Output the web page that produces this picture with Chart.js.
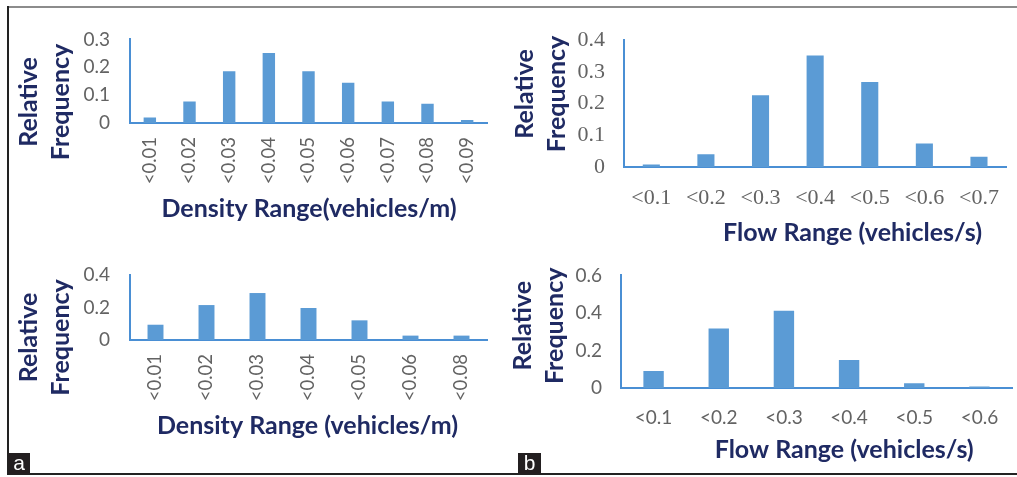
<!DOCTYPE html>
<html>
<head>
<meta charset="utf-8">
<title>Relative frequency of density and flow ranges</title>
<script src="https://cdn.jsdelivr.net/npm/chart.js@4.4.1/dist/chart.umd.min.js"></script>
<style>
  html, body { margin: 0; padding: 0; background: #ffffff; }
  body { width: 1017px; height: 477px; position: relative; overflow: hidden; }
  canvas { position: absolute; }
  #densityTop    { left: 9px;   top: 8px;   }
  #densityBottom { left: 9px;   top: 240px; }
  #flowTop       { left: 509px; top: 8px;   }
  #flowBottom    { left: 509px; top: 245px; }
  .rule { position: absolute; }
  .rule.top    { left: 8px; top: 6px;   width: 1009px; height: 2px; background: #8c8c8c; }
  .rule.left   { left: 7px; top: 6px;   width: 2px; height: 469px; background: #222222; }
  .rule.bottom { left: 7px; top: 473px; width: 1010px; height: 2px; background: #222222; }
  .tag {
    position: absolute; top: 453px; height: 21px; z-index: 2;
    background: #231f20; color: #ffffff; text-align: center;
    font: 21px "Liberation Sans", Arial, sans-serif; line-height: 20px;
  }
  .tag.a { left: 8px;   width: 22px; }
  .tag.b { left: 518px; width: 23px; }
</style>
</head>
<body>
<div class="rule top"></div>
<div class="rule left"></div>
<div class="rule bottom"></div>

<canvas id="densityTop" width="496" height="226"></canvas>
<canvas id="densityBottom" width="496" height="212"></canvas>
<canvas id="flowTop" width="508" height="246"></canvas>
<canvas id="flowBottom" width="508" height="232"></canvas>

<div class="tag a">a</div>
<div class="tag b">b</div>

<script>
// ---- data ----
const densityRangesTop = ['<0.01', '<0.02', '<0.03', '<0.04', '<0.05', '<0.06', '<0.07', '<0.08', '<0.09'];
const densityFreqTop   = [0.020, 0.077, 0.186, 0.251, 0.186, 0.144, 0.077, 0.069, 0.011];
const densityTicksTop  = [0, 0.1, 0.2, 0.3];

const densityRangesBottom = ['<0.01', '<0.02', '<0.03', '<0.04', '<0.05', '<0.06', '<0.08'];
const densityFreqBottom   = [0.094, 0.215, 0.289, 0.197, 0.121, 0.027, 0.027];
const densityTicksBottom  = [0, 0.2, 0.4];

const flowRangesTop = ['<0.1', '<0.2', '<0.3', '<0.4', '<0.5', '<0.6', '<0.7'];
const flowFreqTop   = [0.008, 0.040, 0.226, 0.352, 0.268, 0.074, 0.032];
const flowTicksTop  = [0, 0.1, 0.2, 0.3, 0.4];

const flowRangesBottom = ['<0.1', '<0.2', '<0.3', '<0.4', '<0.5', '<0.6'];
const flowFreqBottom   = [0.091, 0.317, 0.411, 0.149, 0.025, 0.008];
const flowTicksBottom  = [0, 0.2, 0.4, 0.6];

const yTitleLines = ['Relative', 'Frequency'];

// ---- styling ----
const BAR_BLUE  = '#5b9bd5';
const AXIS_BLUE = '#4a8fd4';
const TICK_GREY = '#636363';
const NAVY      = '#1f2a63';
const SANS      = 'Lato, "Open Sans", sans-serif';
const SERIF     = '"Liberation Serif", "Times New Roman", serif';

// Draws the bold axis captions (two-line rotated y caption, one-line x caption).
const captionPlugin = {
  id: 'captions',
  afterDraw(chart, args, opts) {
    const ctx = chart.ctx;
    ctx.save();
    ctx.fillStyle = opts.color;
    ctx.font = opts.font;
    ctx.textAlign = 'center';
    ctx.textBaseline = 'alphabetic';
    ctx.fillText(opts.xText, opts.xAt[0], opts.xAt[1]);
    opts.yLines.forEach((line, i) => {
      ctx.save();
      ctx.translate(opts.yAt[0] + i * opts.yGap, opts.yAt[1]);
      ctx.rotate(-Math.PI / 2);
      ctx.fillText(line, 0, 0);
      ctx.restore();
    });
    ctx.restore();
  }
};

function histogram(id, ranges, freqs, yTicks, cfg) {
  const canvas = document.getElementById(id);
  const W = canvas.width, H = canvas.height;
  const area = cfg.area;
  return new Chart(canvas, {
    type: 'bar',
    data: {
      labels: ranges,
      datasets: [{
        data: freqs,
        backgroundColor: BAR_BLUE,
        borderWidth: 0,
        barPercentage: 0.313,
        categoryPercentage: 1
      }]
    },
    options: {
      responsive: false,
      animation: false,
      devicePixelRatio: 1,
      layout: { padding: { left: 0, top: area.top, right: W - area.right, bottom: 0 } },
      plugins: {
        legend: { display: false },
        tooltip: { enabled: false },
        captions: {
          color: NAVY,
          font: 'bold ' + cfg.captionSize + 'px ' + SANS,
          xText: cfg.xTitle,
          xAt: cfg.xAt,
          yLines: yTitleLines,
          yAt: cfg.yAt,
          yGap: cfg.yGap
        }
      },
      scales: {
        x: {
          grid: { display: false, drawTicks: false },
          border: { display: true, color: AXIS_BLUE, width: 2 },
          ticks: {
            autoSkip: false,
            minRotation: cfg.rotate ? 90 : 0,
            maxRotation: cfg.rotate ? 90 : 0,
            padding: cfg.xPad,
            color: TICK_GREY,
            font: { family: cfg.tickFamily, size: cfg.xTickSize }
          },
          afterFit: s => { s.height = H - area.bottom; }
        },
        y: {
          min: yTicks[0],
          max: yTicks[yTicks.length - 1],
          grid: { display: false, drawTicks: false },
          border: { display: true, color: AXIS_BLUE, width: 2 },
          ticks: {
            padding: cfg.yPad,
            color: TICK_GREY,
            font: { family: cfg.tickFamily, size: cfg.yTickSize }
          },
          afterBuildTicks: s => { s.ticks = yTicks.map(v => ({ value: v })); },
          afterFit: s => { s.width = area.left; }
        }
      }
    },
    plugins: [captionPlugin]
  });
}

function drawAll() {
  histogram('densityTop', densityRangesTop, densityFreqTop, densityTicksTop, {
    area: { left: 121, top: 31, right: 478, bottom: 115 },
    rotate: true, xPad: 14, yPad: 20,
    tickFamily: SANS, xTickSize: 18.5, yTickSize: 19,
    captionSize: 25, xTitle: 'Density Range(vehicles/m)',
    xAt: [300, 208.7], yAt: [28.3, 94], yGap: 32
  });
  histogram('densityBottom', densityRangesBottom, densityFreqBottom, densityTicksBottom, {
    area: { left: 121, top: 35, right: 478, bottom: 100 },
    rotate: true, xPad: 14, yPad: 20,
    tickFamily: SANS, xTickSize: 18.5, yTickSize: 19,
    captionSize: 25, xTitle: 'Density Range (vehicles/m)',
    xAt: [298.5, 194.3], yAt: [28.3, 97.5], yGap: 32
  });
  histogram('flowTop', flowRangesTop, flowFreqTop, flowTicksTop, {
    area: { left: 115, top: 19, right: 507, bottom: 159 },
    rotate: false, xPad: 18, yPad: 19,
    tickFamily: SERIF, xTickSize: 22, yTickSize: 22,
    captionSize: 25, xTitle: 'Flow Range (vehicles/s)',
    xAt: [343.5, 233], yAt: [24.3, 86], yGap: 32
  });
  histogram('flowBottom', flowRangesBottom, flowFreqBottom, flowTicksBottom, {
    area: { left: 112, top: 15.5, right: 503, bottom: 143 },
    rotate: false, xPad: 18, yPad: 19,
    tickFamily: SANS, xTickSize: 19, yTickSize: 19,
    captionSize: 25, xTitle: 'Flow Range (vehicles/s)',
    xAt: [335.2, 213.3], yAt: [22, 80.8], yGap: 32
  });
}

const fontsReady = document.fonts
  ? Promise.all([
      document.fonts.load('19px Lato'),
      document.fonts.load('bold 25px Lato'),
      document.fonts.load('22px "Liberation Serif"')
    ]).catch(() => {})
  : Promise.resolve();
fontsReady.then(drawAll);
</script>
</body>
</html>
